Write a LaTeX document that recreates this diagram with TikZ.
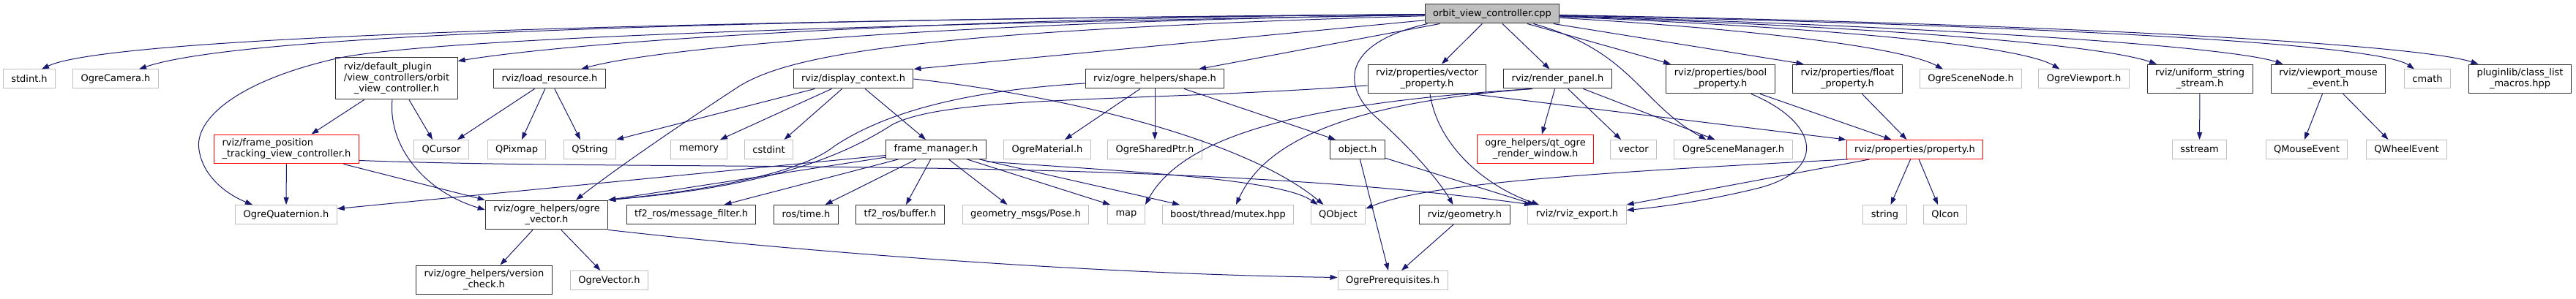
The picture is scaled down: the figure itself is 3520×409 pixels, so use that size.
\documentclass[tikz,border=0pt]{standalone}
\usepackage{fontspec}
\setmainfont{DejaVu Sans}
\usetikzlibrary{arrows.meta}
\definecolor{edgeblue}{HTML}{191970}
\definecolor{extgray}{HTML}{BFBFBF}
\definecolor{docline}{HTML}{303030}
\definecolor{rootfill}{HTML}{BFBFBF}

\begin{document}
\begin{tikzpicture}[x=1pt,y=-1pt,
    font=\fontsize{13}{15}\selectfont,
    hdrbox/.style={draw=docline,fill=white,line width=1pt,inner xsep=11pt,inner ysep=6pt,minimum height=26pt,align=center},
    extbox/.style={hdrbox,draw=extgray},
    truncbox/.style={hdrbox,draw=red},
    rootbox/.style={hdrbox,fill=rootfill},
    incl/.style={draw=edgeblue,line width=1pt,-{Triangle[length=10pt,width=7pt]}}]
    \fill[white](0,0) rectangle (3520,409);
    \useasboundingbox (0,0) rectangle (3520,409);

    \node[rootbox](root) at (2039,19){orbit\_view\_controller.cpp};

    \node[extbox](stdint) at (40,108){stdint.h};
    \node[extbox](ogrecamera) at (158,108){OgreCamera.h};
    \node[hdrbox](orbitvc) at (542,107.5){\begin{tabular}{@{}l@{}}rviz/default\_plugin\\/view\_controllers/orbit\\\multicolumn{1}{@{}c@{}}{\_view\_controller.h}\end{tabular}};
    \node[hdrbox](loadres) at (751,108){rviz/load\_resource.h};
    \node[hdrbox](dispctx) at (1166,108){rviz/display\_context.h};
    \node[hdrbox](shape) at (1578,108){rviz/ogre\_helpers/shape.h};
    \node[hdrbox](vecprop) at (1950,108){rviz/properties/vector\\\_property.h};
    \node[hdrbox](renderpanel) at (2128.5,108){rviz/render\_panel.h};
    \node[hdrbox](boolprop) at (2351,108){rviz/properties/bool\\\_property.h};
    \node[hdrbox](floatprop) at (2524.5,108){rviz/properties/float\\\_property.h};
    \node[extbox](scenenode) at (2693,108){OgreSceneNode.h};
    \node[extbox](viewport) at (2847.5,108){OgreViewport.h};
    \node[hdrbox](uniform) at (3006,108){rviz/uniform\_string\\\_stream.h};
    \node[hdrbox](mouseevt) at (3181.5,108){rviz/viewport\_mouse\\\_event.h};
    \node[extbox](cmath) at (3317,108){cmath};
    \node[hdrbox](classlist) at (3443.5,108){pluginlib/class\_list\\\_macros.hpp};

    \node[truncbox,align=left](frametrack) at (391.5,204){rviz/frame\_position\\\_tracking\_view\_controller.h};
    \node[extbox](qcursor) at (603,204.5){QCursor};
    \node[extbox](qpixmap) at (706,204.5){QPixmap};
    \node[extbox](qstring) at (806,204.5){QString};
    \node[extbox](memory) at (955,204.5){memory};
    \node[extbox](cstdint) at (1050.5,204.5){cstdint};
    \node[hdrbox](framemgr) at (1279,204.5){frame\_manager.h};
    \node[extbox](ogrematerial) at (1431,204.5){OgreMaterial.h};
    \node[extbox](sharedptr) at (1578,204.5){OgreSharedPtr.h};
    \node[hdrbox](object) at (1855,204.5){object.h};
    \node[truncbox](qtogre) at (2098,204){ogre\_helpers/qt\_ogre\\\_render\_window.h};
    \node[extbox](vector) at (2232,204.5){vector};
    \node[extbox](scenemgr) at (2368.5,204.5){OgreSceneManager.h};
    \node[truncbox](property) at (2616.5,204.5){rviz/properties/property.h};
    \node[extbox](sstream) at (3005.5,204.5){sstream};
    \node[extbox](qmouse) at (3152,204.5){QMouseEvent};
    \node[extbox](qwheel) at (3288.5,204.5){QWheelEvent};

    \node[extbox](quaternion) at (391,293.5){OgreQuaternion.h};
    \node[hdrbox](ogrevec) at (747,294){rviz/ogre\_helpers/ogre\\\_vector.h};
    \node[hdrbox](msgfilter) at (944.5,293.5){tf2\_ros/message\_filter.h};
    \node[hdrbox](rostime) at (1101.5,293.5){ros/time.h};
    \node[hdrbox](tfbuffer) at (1230,293.5){tf2\_ros/buffer.h};
    \node[extbox](pose) at (1401.5,293.5){geometry\_msgs/Pose.h};
    \node[extbox](map) at (1539,293.5){map};
    \node[extbox](mutex) at (1678,293.5){boost/thread/mutex.hpp};
    \node[extbox](qobject) at (1828.5,293.5){QObject};
    \node[hdrbox](geometry) at (2001.5,293.5){rviz/geometry.h};
    \node[extbox](rvizexport) at (2155,293.5){rviz/rviz\_export.h};
    \node[extbox](string) at (2575.5,293.5){string};
    \node[extbox](qicon) at (2658,293.5){QIcon};

    \node[hdrbox](version) at (661.5,383){rviz/ogre\_helpers/version\\\_check.h};
    \node[extbox](ogrevector3) at (832.5,383.5){OgreVector.h};
    \node[extbox](prereq) at (1903,383.5){OgrePrerequisites.h};

    \draw[incl](root) .. controls (900,28) and (150,50) .. ([xshift=17pt]stdint.north);
    \draw[incl](root) .. controls (900,27) and (320,50) .. ([xshift=32pt]ogrecamera.north);
    \draw[incl](root) .. controls (1000,36) and (560,58) .. (460,80) .. controls (320,112) and (265,165) .. (272,205) .. controls (278,245) and (315,268) .. ([xshift=-46pt]quaternion.north);
    \draw[incl](root) .. controls (1300,24) and (800,55) .. ([yshift=-5pt]orbitvc.north east);
    \draw[incl](root) .. controls (1300,30) and (900,65) .. ([xshift=43pt]loadres.north);
    \draw[incl](root) .. controls (1250,42) and (1080,75) .. (1010,118) .. controls (900,190) and (830,240) .. ([xshift=40pt]ogrevec.north);
    \draw[incl](root) -- (dispctx.north east);
    \draw[incl](root) -- ([xshift=60pt]shape.north);
    \draw[incl](root) -- ([xshift=20pt]vecprop.north);
    \draw[incl](root) -- ([xshift=-11pt]renderpanel.north);
    \draw[incl]([xshift=4pt]root.south west) .. controls (1830,60) and (1835,120) .. (1880,160) .. controls (1925,200) and (1965,245) .. ([xshift=-16pt]geometry.north);
    \draw[incl](root) -- ([xshift=-68pt]boolprop.north);
    \draw[incl]([xshift=-36pt]root.south east) .. controls (2230,70) and (2240,140) .. ([xshift=-37pt]scenemgr.north);
    \draw[incl](root) -- ([xshift=-60pt]floatprop.north);
    \draw[incl](root) .. controls (2400,40) and (2600,65) .. ([xshift=-38pt]scenenode.north);
    \draw[incl](root) .. controls (2500,38) and (2760,62) .. ([xshift=-33pt]viewport.north);
    \draw[incl](root) .. controls (2650,40) and (2880,65) .. ([xshift=-59pt]uniform.north);
    \draw[incl](root) .. controls (2700,38) and (3050,65) .. ([xshift=-62pt]mouseevt.north);
    \draw[incl](root) .. controls (2800,35) and (3250,60) .. ([xshift=-18pt]cmath.north);
    \draw[incl](root) .. controls (2800,32) and (3300,60) .. ([xshift=-57pt]classlist.north);

    \draw[incl](orbitvc) -- ([xshift=34pt]frametrack.north);
    \draw[incl]([xshift=-6pt]orbitvc.south) .. controls (530,200) and (580,262) .. ([yshift=7pt]ogrevec.west);
    \draw[incl]([xshift=17pt]orbitvc.south) -- ([xshift=-12pt]qcursor.north);

    \draw[incl](loadres) -- ([xshift=22pt]qcursor.north);
    \draw[incl](loadres) -- ([xshift=7pt]qpixmap.north);
    \draw[incl](loadres) -- ([xshift=-13pt]qstring.north);

    \draw[incl](dispctx) -- (qstring.north east);
    \draw[incl](dispctx) -- ([xshift=29pt]memory.north);
    \draw[incl](dispctx) -- ([xshift=21pt]cstdint.north);
    \draw[incl](dispctx) -- ([xshift=-14pt]framemgr.north);
    \draw[incl](dispctx.east) .. controls (1450,130) and (1700,190) .. ([xshift=-20pt]qobject.north);

    \draw[incl](shape) -- ([xshift=24pt]ogrematerial.north);
    \draw[incl](shape) -- (sharedptr);
    \draw[incl](shape) -- ([xshift=-30pt]object.north);
    \draw[incl]([yshift=-6pt]shape.west) .. controls (1300,125) and (1200,160) .. (1140,200) .. controls (1090,240) and (950,262) .. (ogrevec.north east);

    \draw[incl]([yshift=-9pt]vecprop.west) .. controls (1550,140) and (1300,130) .. (1220,170) .. controls (1150,215) and (1050,255) .. (ogrevec.north east);
    \draw[incl]([xshift=60pt]vecprop.south) -- (property.north west);
    \draw[incl]([xshift=4pt]vecprop.south) .. controls (1965,200) and (2030,255) .. ([xshift=-52pt]rvizexport.north);

    \draw[incl](renderpanel) -- ([xshift=9pt]qtogre.north);
    \draw[incl](renderpanel) -- ([xshift=-17pt]vector.north);
    \draw[incl](renderpanel) -- ([xshift=-25pt]scenemgr.north);
    \draw[incl]([xshift=-35pt]renderpanel.south) .. controls (1800,140) and (1620,180) .. (map.north east);
    \draw[incl]([xshift=-35pt]renderpanel.south) .. controls (1850,140) and (1730,190) .. ([xshift=11pt]mutex.north);

    \draw[incl]([xshift=54pt]boolprop.south) -- ([xshift=-32pt]property.north);
    \draw[incl]([xshift=42pt]boolprop.south) .. controls (2490,170) and (2495,235) .. (2400,258) .. controls (2330,275) and (2270,283) .. ([yshift=6pt]rvizexport.east);

    \draw[incl](floatprop) -- ([xshift=-11pt]property.north);

    \draw[incl](property) -- ([xshift=8pt]string.north);
    \draw[incl](property) -- ([xshift=-10pt]qicon.north);
    \draw[incl]([xshift=-92pt]property.south) .. controls (2200,235) and (1950,250) .. ([yshift=8pt]qobject.east);
    \draw[incl]([xshift=-62pt]property.south) -- (rvizexport.north east);

    \draw[incl](object) -- ([xshift=-6pt]prereq.north);
    \draw[incl](object) -- ([xshift=-58pt]rvizexport.north);
    \draw[incl](geometry) -- ([xshift=12pt]prereq.north);

    \draw[incl](ogrevec) -- ([xshift=22pt]version.north);
    \draw[incl](ogrevec) -- ([xshift=-12pt]ogrevector3.north);
    \draw[incl](ogrevec.south east) .. controls (1100,345) and (1500,375) .. ([yshift=4pt]prereq.west);

    \draw[incl](frametrack) -- (quaternion);
    \draw[incl]([xshift=78pt]frametrack.south) -- (ogrevec.north west);
    \draw[incl]([yshift=5pt]frametrack.south east) .. controls (900,235) and (1600,212) .. ([xshift=-62pt]rvizexport.north);

    \draw[incl]([yshift=-8pt]framemgr.west) -- ([yshift=8pt]quaternion.east);
    \draw[incl](framemgr) -- (ogrevec.north east);
    \draw[incl](framemgr) -- ([xshift=45pt]msgfilter.north);
    \draw[incl](framemgr) -- ([xshift=26pt]rostime.north);
    \draw[incl](framemgr) -- ([xshift=8pt]tfbuffer.north);
    \draw[incl](framemgr) -- ([xshift=-25pt]pose.north);
    \draw[incl](framemgr) -- ([xshift=-22pt]map.north);
    \draw[incl](framemgr) -- ([xshift=-66pt]mutex.north);
    \draw[incl]([yshift=-3pt]framemgr.south east) .. controls (1550,235) and (1750,245) .. ([xshift=-28pt]qobject.north);

    \draw[incl](uniform) -- (sstream);
    \draw[incl](mouseevt) -- ([xshift=-3pt]qmouse.north);
    \draw[incl](mouseevt) -- ([xshift=-25pt]qwheel.north);
\end{tikzpicture}
\end{document}
